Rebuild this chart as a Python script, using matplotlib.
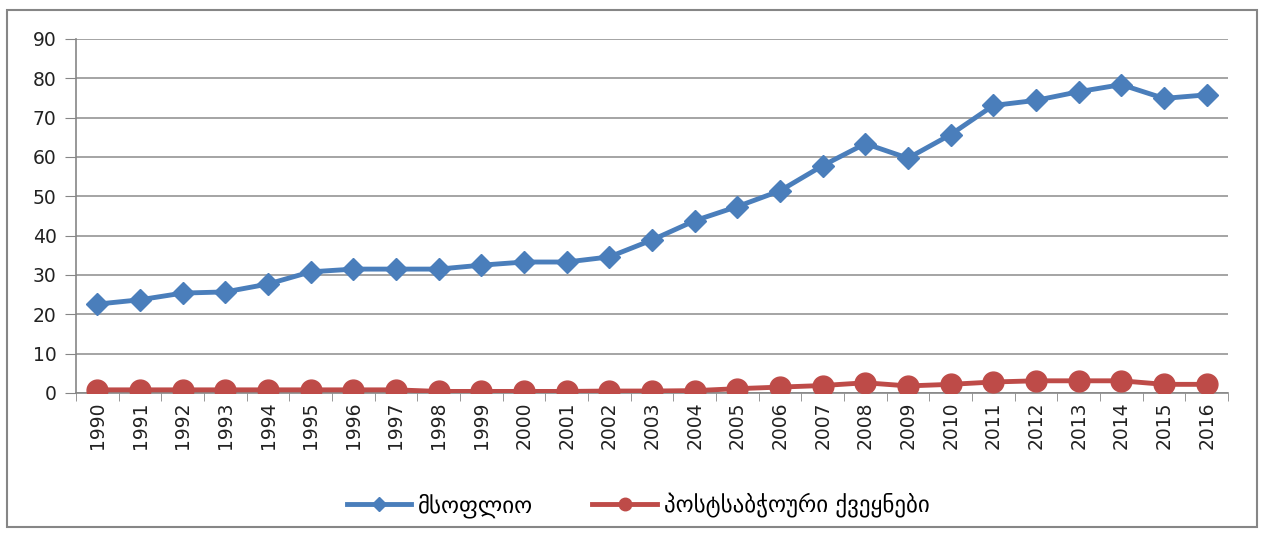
import matplotlib
matplotlib.use("Agg")
import matplotlib.pyplot as plt
from matplotlib.patches import Rectangle
import numpy as np

years = [str(y) for y in range(1990, 2017)]
world = [22.6, 23.7, 25.4, 25.7, 27.7, 30.8, 31.5, 31.5, 31.5, 32.5, 33.3, 33.3, 34.6,
         38.9, 43.8, 47.4, 51.4, 57.8, 63.4, 59.7, 65.7, 73.1, 74.4, 76.6, 78.4, 74.9, 75.8]
post_soviet = [0.8, 0.8, 0.8, 0.8, 0.8, 0.8, 0.8, 0.8, 0.4, 0.4, 0.4, 0.4, 0.5,
               0.5, 0.6, 1.1, 1.5, 1.9, 2.6, 1.8, 2.2, 2.8, 3.1, 3.1, 3.1, 2.2, 2.2]
labels = ["მსოფლიო", "პოსტსაბჭოური ქვეყნები"]
yticks = [0, 10, 20, 30, 40, 50, 60, 70, 80, 90]

plt.rcParams['font.family'] = ['DejaVu Sans']
fig = plt.figure(figsize=(12.65, 5.35), dpi=100)
ax = fig.add_axes([76/1265, 1 - 393/535, (1228-76)/1265, (393-39)/535])

x = np.arange(len(years))
ax.plot(x, world, color='#4A7EBB', lw=3.5, marker='D', ms=11.5, mfc='#4A7EBB', mec='#4A7EBB',
        label=labels[0], zorder=3)
ax.plot(x, post_soviet, color='#BE4B48', lw=3.5, marker='o', ms=15, mfc='#BE4B48', mec='#BE4B48',
        label=labels[1], zorder=3)

ax.set_xlim(-0.5, len(years) - 0.5)
ax.set_ylim(0, 90)
ax.set_yticks(yticks)
ax.set_yticklabels([str(v) for v in yticks], fontsize=13.5, color='#222222')
ax.set_xticks(x)
ax.set_xticklabels(years, rotation=90, fontsize=13.5, color='#222222')
ax.set_xticks(np.arange(-0.5, len(years), 1), minor=True)
ax.tick_params(axis='x', which='major', length=0, pad=6)
ax.tick_params(axis='x', which='minor', length=6, color='#868686')
ax.tick_params(axis='y', length=8, color='#868686', pad=6)
ax.grid(axis='y', color='#8C8C8C', lw=1.1)
ax.set_axisbelow(True)
for s in ['top', 'right']:
    ax.spines[s].set_visible(False)
for s in ['left', 'bottom']:
    ax.spines[s].set_color('#868686')
    ax.spines[s].set_linewidth(1.2)

fig.legend(loc='center', bbox_to_anchor=(638/1265, 1 - 505/535), ncol=2, frameon=False,
           fontsize=16.5, handlelength=2.8, handletextpad=0.3, columnspacing=2.6, markerscale=0.6)

fig.patches.append(Rectangle((7/1265, 8/535), (1257-7)/1265, (527-10)/535, transform=fig.transFigure,
                             fill=False, edgecolor='#868686', lw=1.5))

fig.savefig('out.png', dpi=100)
